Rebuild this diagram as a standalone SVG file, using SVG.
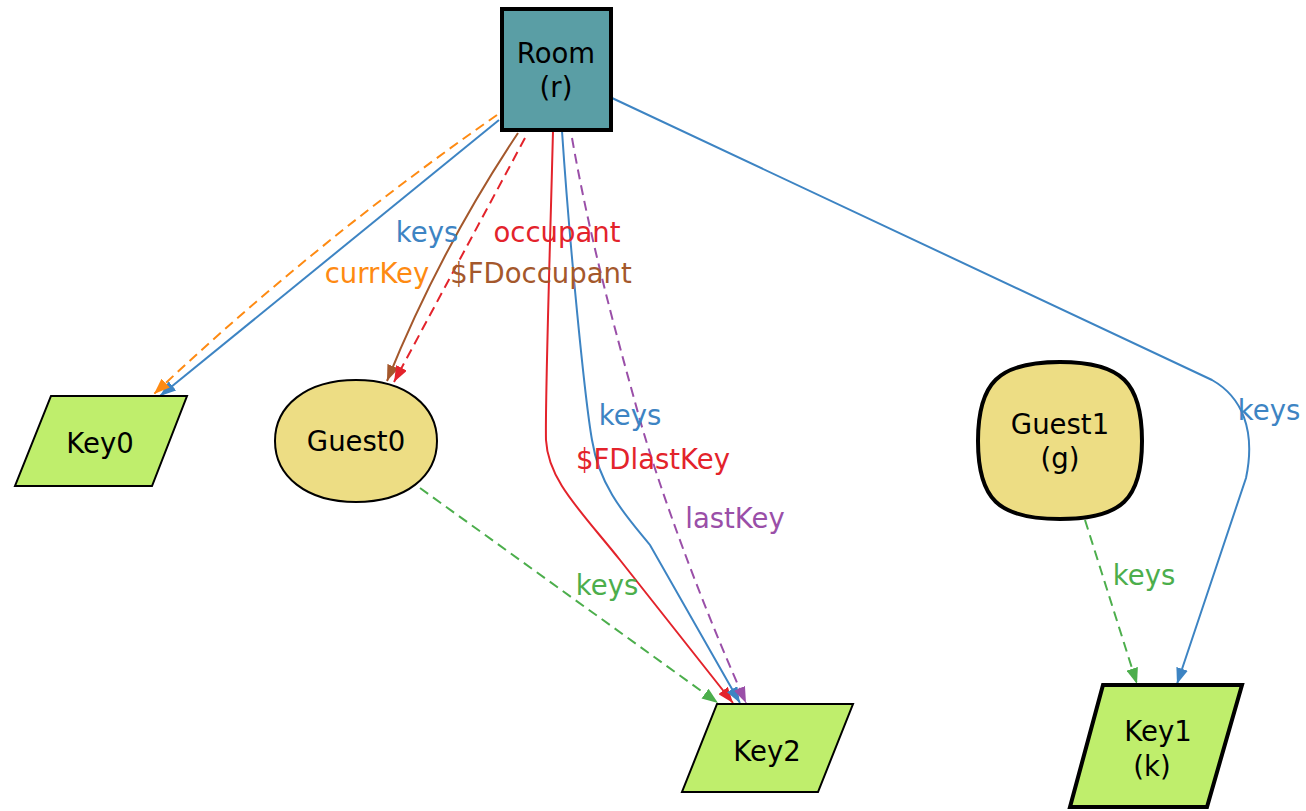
<svg xmlns="http://www.w3.org/2000/svg" width="1306" height="811" viewBox="0 0 1306 811">
<style>
text{font-family:"DejaVu Sans","Liberation Sans",sans-serif;font-size:27.5px;text-anchor:middle}
.e{fill:none;stroke-width:2}
.d{stroke-dasharray:10,6}
.key{fill:#bfee6c;stroke:#000}
.guest{fill:#eddd84;stroke:#000}
</style>
<defs>
<marker id="aB" markerUnits="userSpaceOnUse" markerWidth="17" markerHeight="12" refX="16" refY="6" orient="auto"><path d="M0,0L16,6L0,12z" fill="#3d84c3"/></marker>
<marker id="aO" markerUnits="userSpaceOnUse" markerWidth="17" markerHeight="12" refX="16" refY="6" orient="auto"><path d="M0,0L16,6L0,12z" fill="#fe8a12"/></marker>
<marker id="aBr" markerUnits="userSpaceOnUse" markerWidth="17" markerHeight="12" refX="16" refY="6" orient="auto"><path d="M0,0L16,6L0,12z" fill="#a4582c"/></marker>
<marker id="aR" markerUnits="userSpaceOnUse" markerWidth="17" markerHeight="12" refX="16" refY="6" orient="auto"><path d="M0,0L16,6L0,12z" fill="#e3232b"/></marker>
<marker id="aP" markerUnits="userSpaceOnUse" markerWidth="17" markerHeight="12" refX="16" refY="6" orient="auto"><path d="M0,0L16,6L0,12z" fill="#9a4fa8"/></marker>
<marker id="aG" markerUnits="userSpaceOnUse" markerWidth="17" markerHeight="12" refX="16" refY="6" orient="auto"><path d="M0,0L16,6L0,12z" fill="#4cae4c"/></marker>
</defs>
<g id="connectors">
<path class="e" stroke="#3d84c3" d="M499,120 L160,396" marker-end="url(#aB)"/>
<path class="e d" stroke="#fe8a12" d="M497,115 Q315,242 154,394" marker-end="url(#aO)"/>
<path class="e" stroke="#a4582c" d="M518,133 Q440,250 387,381" marker-end="url(#aBr)"/>
<path class="e d" stroke="#e3232b" d="M525,138 L394,382" marker-end="url(#aR)"/>
<path class="e" stroke="#e3232b" d="M553,131 C550,250 545,400 546,440 C548,480 580,510 620,560 L733,703" marker-end="url(#aR)"/>
<path class="e" stroke="#3d84c3" d="M562,131 C570,250 585,400 592,440 C600,490 630,520 650,545 L740,703" marker-end="url(#aB)"/>
<path class="e d" stroke="#9a4fa8" d="M572,138 C590,240 615,330 640,420 C660,490 700,600 746,703" marker-end="url(#aP)"/>
<path class="e d" stroke="#4cae4c" d="M420,488 L718,703" marker-end="url(#aG)"/>
<path class="e" stroke="#3d84c3" d="M612,98 L1212,380 C1242,397 1256,430 1246,478 L1177,684" marker-end="url(#aB)"/>
<path class="e d" stroke="#4cae4c" d="M1085,520 L1137,684" marker-end="url(#aG)"/>
<text x="427" y="242" fill="#3d84c3">keys</text>
<text x="557" y="242" fill="#e3232b">occupant</text>
<text x="377" y="283" fill="#fe8a12">currKey</text>
<text x="541" y="283" fill="#a4582c">$FDoccupant</text>
<text x="630" y="425" fill="#3d84c3">keys</text>
<text x="653" y="469" fill="#e3232b">$FDlastKey</text>
<text x="735" y="528" fill="#9a4fa8">lastKey</text>
<text x="607" y="595" fill="#4cae4c">keys</text>
<text x="1269" y="420" fill="#3d84c3">keys</text>
<text x="1144" y="585" fill="#4cae4c">keys</text>
</g>
<g id="room">
<rect x="502" y="9" width="109" height="121" fill="#5a9ea5" stroke="#000" stroke-width="4"/>
<text x="556" y="63">Room</text>
<text x="556" y="97">(r)</text>
</g>
<g id="key0">
<path class="key" stroke-width="2" d="M51,396 L187,396 L152,486 L15,486z"/>
<text x="100" y="453">Key0</text>
</g>
<g id="guest0">
<path class="guest" stroke-width="2" d="M356,380 C406,380 437,406 437,441 C437,476 406,502 356,502 C306,502 275,476 275,441 C275,406 306,380 356,380z"/>
<text x="356" y="451">Guest0</text>
</g>
<g id="guest1">
<path class="guest" stroke-width="4" d="M1060,362 C1122,362 1142,383 1142,441 C1142,499 1122,519 1060,519 C998,519 978,499 978,441 C978,383 998,362 1060,362z"/>
<text x="1060" y="434">Guest1</text>
<text x="1060" y="468">(g)</text>
</g>
<g id="key2">
<path class="key" stroke-width="2" d="M717,704 L853,704 L818,792 L682,792z"/>
<text x="767" y="761">Key2</text>
</g>
<g id="key1">
<path class="key" stroke-width="4" d="M1103,685 L1242,685 L1207,807 L1070,807z"/>
<text x="1158" y="741">Key1</text>
<text x="1152" y="776">(k)</text>
</g>
</svg>
